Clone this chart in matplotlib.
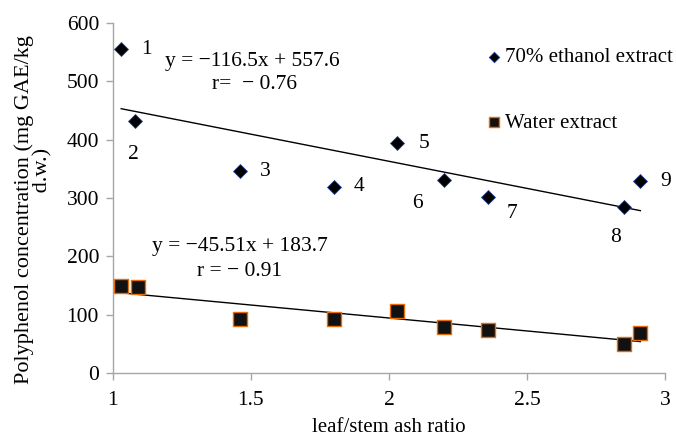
import numpy as np
import matplotlib
matplotlib.use("Agg")
import matplotlib.pyplot as plt

plt.rcParams['font.family'] = ['Liberation Serif', 'DejaVu Serif']

# leaf/stem ash ratio of the nine samples
ash_ratio = [1.03, 1.08, 1.46, 1.80, 2.03, 2.20, 2.36, 2.85, 2.91]
ash_ratio_water = [1.03, 1.09, 1.46, 1.80, 2.03, 2.20, 2.36, 2.85, 2.91]
# polyphenol concentration (mg GAE/kg d.w.)
ethanol = [555, 432, 346, 319, 394, 331, 302, 284, 329]
water = [149, 147, 92, 92, 106, 79, 74, 50, 69]
sample_ids = ['1', '2', '3', '4', '5', '6', '7', '8', '9']
# label offsets (points) relative to each ethanol point
label_offsets = [(18, 0), (-1, -24), (18, 0), (18, 0), (19, 0),
                 (-19, -17), (17, -12), (-6, -22), (18, 0)]

FS = 15.5

fig = plt.figure(figsize=(6.76, 4.36), dpi=100)
ax = fig.add_axes([0.167, 0.145, 0.817, 0.802])

axis_gray = '#a6a6a6'

# linear trend lines
for xs, ys in ((ash_ratio, ethanol), (ash_ratio_water, water)):
    k, b = np.polyfit(xs, ys, 1)
    xl = np.array([min(xs), max(xs)])
    ax.plot(xl, k * xl + b, color='black', lw=1.0, zorder=2)

ax.scatter(ash_ratio, ethanol, marker='D', s=50, facecolor='black',
           edgecolor='#1f3f8f', linewidths=0.6, zorder=3,
           label='70% ethanol extract')
ax.scatter(ash_ratio_water, water, marker='s', s=100, facecolor='#111111',
           edgecolor='#e46c0a', linewidths=1.0, zorder=3,
           label='Water extract')

for sid, x, y, off in zip(sample_ids, ash_ratio, ethanol, label_offsets):
    ax.annotate(sid, (x, y), xytext=off, textcoords='offset points',
                ha='center', va='center', fontsize=FS)

ax.text(0.252, 0.889, 'y = \u2212116.5x + 557.6', transform=ax.transAxes,
        ha='center', va='center', fontsize=FS)
ax.text(0.257, 0.823, 'r=  \u2212 0.76', transform=ax.transAxes,
        ha='center', va='center', fontsize=FS)
ax.text(0.230, 0.360, 'y = \u221245.51x + 183.7', transform=ax.transAxes,
        ha='center', va='center', fontsize=FS)
ax.text(0.230, 0.289, 'r = \u2212 0.91', transform=ax.transAxes,
        ha='center', va='center', fontsize=FS)

ax.set_xlim(1, 3)
ax.set_ylim(0, 600)
ax.set_xticks([1, 1.5, 2, 2.5, 3])
ax.set_xticklabels(['1', '1.5', '2', '2.5', '3'])
ax.set_yticks(range(0, 601, 100))

for side in ('top', 'right'):
    ax.spines[side].set_visible(False)
for side in ('left', 'bottom'):
    ax.spines[side].set_color(axis_gray)
    ax.spines[side].set_linewidth(1.0)
ax.tick_params(axis='both', colors=axis_gray, labelcolor='black',
               labelsize=FS, length=5, width=1.0, direction='out')
ax.tick_params(axis='x', pad=8)
ax.tick_params(axis='y', pad=5)

ax.set_xlabel('leaf/stem ash ratio', fontsize=15, labelpad=6)
ax.set_ylabel('Polyphenol concentration (mg GAE/kg\n' + ' ' * 14 + 'd.w.)',
              fontsize=16, linespacing=0.95)
ax.yaxis.set_label_coords(-0.11, 0.466)

leg = ax.legend(loc='upper left', bbox_to_anchor=(0.677, 0.93), frameon=False,
                fontsize=15, handletextpad=0.15, labelspacing=2.2,
                markerscale=0.75, handlelength=0.7, borderpad=0,
                borderaxespad=0)

fig.savefig('out.png', dpi=100)
